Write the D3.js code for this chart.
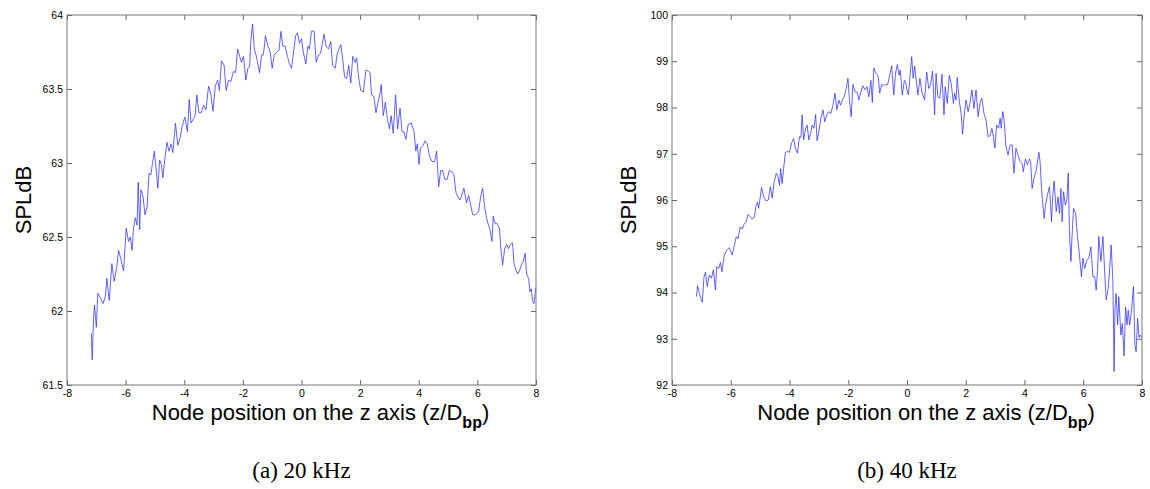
<!DOCTYPE html>
<html>
<head>
<meta charset="utf-8">
<script src="https://cdnjs.cloudflare.com/ajax/libs/d3/7.8.5/d3.min.js"></script>
<style>
body { margin: 0; background: #fff; }
svg { display: block; }
.tick text { font-family: "Liberation Sans", Arial, sans-serif; font-size: 10.5px; fill: #000; }
.tick line { stroke: #666; }
.frame { fill: none; stroke: #777; stroke-width: 1; }
.series { fill: none; stroke: #3a3aff; stroke-width: 0.8; stroke-linejoin: round; }
.axis-label { font-family: "Liberation Sans", Arial, sans-serif; font-size: 22px; fill: #000; }
.caption { font-family: "Liberation Serif", "DejaVu Serif", serif; font-size: 23px; fill: #000; }
</style>
</head>
<body>
<svg id="fig"></svg>
<script>
'use strict';

// (a) 20 kHz
var zA = [-7.17, -7.14, -7.09, -7.06, -7.00, -6.95, -6.86, -6.77, -6.69, -6.64, -6.56, -6.47, -6.39, -6.30, -6.24, -6.15,
  -6.07, -5.98, -5.90, -5.84, -5.78, -5.73, -5.67, -5.61, -5.57, -5.52, -5.48, -5.41, -5.34, -5.27, -5.20, -5.14,
  -5.09, -5.02, -4.95, -4.90, -4.84, -4.78, -4.73, -4.66, -4.59, -4.52, -4.45, -4.39, -4.30, -4.22, -4.14, -4.07,
  -3.98, -3.89, -3.83, -3.77, -3.68, -3.63, -3.57, -3.50, -3.42, -3.34, -3.26, -3.17, -3.09, -3.02, -2.94, -2.86,
  -2.80, -2.73, -2.64, -2.57, -2.49, -2.41, -2.32, -2.25, -2.18, -2.11, -2.05, -1.98, -1.90, -1.83, -1.77, -1.73,
  -1.67, -1.61, -1.55, -1.50, -1.43, -1.36, -1.30, -1.23, -1.16, -1.07, -1.00, -0.93, -0.84, -0.77, -0.70, -0.64,
  -0.56, -0.48, -0.41, -0.34, -0.27, -0.20, -0.14, -0.07, 0.00,
  0.06, 0.15, 0.22, 0.27, 0.34, 0.43, 0.50, 0.58, 0.65, 0.77, 0.84, 0.92, 1.00, 1.06, 1.15, 1.22,
  1.34, 1.40, 1.47, 1.54, 1.61, 1.68, 1.75, 1.83, 1.88, 1.95, 2.02, 2.11, 2.20, 2.28, 2.34, 2.39,
  2.47, 2.54, 2.61, 2.68, 2.72, 2.79, 2.86, 2.93, 3.00, 3.06, 3.13, 3.21, 3.28, 3.36, 3.43, 3.50,
  3.56, 3.64, 3.75, 3.84, 3.90, 3.95, 4.01, 4.06, 4.15, 4.22, 4.29, 4.36, 4.45, 4.54, 4.61, 4.68,
  4.75, 4.81, 4.89, 4.97, 5.04, 5.13, 5.20, 5.27, 5.34, 5.40, 5.47, 5.54, 5.63, 5.70, 5.77, 5.84,
  5.93, 6.04, 6.11, 6.18, 6.25, 6.31, 6.38, 6.43, 6.50, 6.54, 6.61, 6.68, 6.75, 6.81, 6.86, 6.93,
  7.00, 7.06, 7.13, 7.20, 7.25, 7.31, 7.38, 7.45, 7.52, 7.56, 7.63, 7.68, 7.75, 7.79, 7.84, 7.88,
  7.93, 7.97, 8.00];
var splA = [61.85, 61.67, 61.97, 62.04, 61.89, 62.12, 62.09, 62.05, 62.10, 62.22, 62.07, 62.32, 62.20, 62.30, 62.41, 62.34,
  62.27, 62.56, 62.47, 62.50, 62.41, 62.56, 62.63, 62.58, 62.87, 62.55, 62.82, 62.78, 62.65, 62.70, 62.93, 62.92,
  62.99, 63.08, 62.94, 62.83, 63.02, 62.99, 62.90, 63.03, 63.14, 63.08, 63.13, 63.07, 63.27, 63.12, 63.17, 63.25,
  63.31, 63.21, 63.43, 63.27, 63.30, 63.32, 63.46, 63.34, 63.34, 63.39, 63.36, 63.52, 63.46, 63.35, 63.52, 63.56,
  63.49, 63.69, 63.66, 63.49, 63.56, 63.55, 63.62, 63.61, 63.77, 63.72, 63.68, 63.72, 63.56, 63.64, 63.65, 63.82,
  63.94, 63.77, 63.73, 63.68, 63.61, 63.73, 63.73, 63.86, 63.80, 63.75, 63.64, 63.73, 63.75, 63.76, 63.89, 63.79,
  63.79, 63.72, 63.67, 63.64, 63.75, 63.86, 63.88, 63.81, 63.84,
  63.75, 63.67, 63.79, 63.77, 63.89, 63.89, 63.68, 63.73, 63.74, 63.87, 63.79, 63.77, 63.82, 63.66, 63.64, 63.74,
  63.80, 63.71, 63.58, 63.57, 63.66, 63.54, 63.72, 63.68, 63.71, 63.58, 63.49, 63.48, 63.63, 63.62, 63.61, 63.46,
  63.45, 63.34, 63.41, 63.47, 63.53, 63.32, 63.41, 63.30, 63.23, 63.32, 63.20, 63.46, 63.23, 63.37, 63.21, 63.21,
  63.16, 63.26, 63.27, 63.21, 63.08, 63.13, 62.99, 63.10, 63.12, 63.15, 63.13, 63.05, 63.01, 63.01, 63.08, 62.84,
  62.95, 62.95, 62.89, 62.89, 62.95, 62.94, 62.92, 62.80, 62.77, 62.75, 62.78, 62.83, 62.73, 62.78, 62.72, 62.65,
  62.65, 62.67, 62.77, 62.83, 62.70, 62.63, 62.58, 62.55, 62.47, 62.64, 62.59, 62.59, 62.56, 62.40, 62.31, 62.42,
  62.45, 62.42, 62.45, 62.46, 62.32, 62.28, 62.25, 62.28, 62.32, 62.33, 62.39, 62.25, 62.22, 62.13, 62.15, 62.07,
  62.05, 62.12, 62.16];

// (b) 40 kHz
var zB = [-7.17, -7.13, -7.07, -7.02, -6.97, -6.91, -6.86, -6.80, -6.73, -6.66, -6.59, -6.52, -6.48, -6.41, -6.35, -6.30,
  -6.22, -6.13, -6.05, -5.95, -5.89, -5.81, -5.75, -5.68, -5.61, -5.55, -5.48, -5.41, -5.34, -5.27, -5.20, -5.14,
  -5.09, -5.05, -4.95, -4.88, -4.80, -4.72, -4.65, -4.59, -4.53, -4.45, -4.39, -4.34, -4.30, -4.25, -4.20, -4.14,
  -4.07, -4.00, -3.93, -3.86, -3.80, -3.73, -3.66, -3.61, -3.57, -3.52, -3.45, -3.40, -3.34, -3.28, -3.23, -3.17,
  -3.11, -3.06, -3.00, -2.93, -2.86, -2.80, -2.73, -2.66, -2.59, -2.52, -2.45, -2.39, -2.32, -2.26, -2.20, -2.14,
  -2.07, -2.01, -1.95, -1.90, -1.84, -1.77, -1.69, -1.64, -1.57, -1.50, -1.43, -1.36, -1.30, -1.23, -1.18, -1.13,
  -1.05, -0.98, -0.93, -0.86, -0.80, -0.73, -0.66, -0.59, -0.52, -0.45, -0.39, -0.33, -0.27, -0.23, -0.16, -0.09,
  -0.05, 0.00,
  0.05, 0.11, 0.16, 0.21, 0.26, 0.32, 0.37, 0.44, 0.51, 0.60, 0.67, 0.74, 0.80, 0.87, 0.94, 0.99,
  1.05, 1.12, 1.19, 1.26, 1.30, 1.37, 1.44, 1.51, 1.58, 1.62, 1.67, 1.71, 1.78, 1.85, 1.89, 1.96,
  2.01, 2.08, 2.14, 2.21, 2.28, 2.35, 2.42, 2.49, 2.55, 2.62, 2.69, 2.76, 2.83, 2.89, 2.94, 2.99,
  3.05, 3.12, 3.17, 3.21, 3.26, 3.30, 3.37, 3.44, 3.51, 3.58, 3.64, 3.71, 3.78, 3.85, 3.92, 3.96,
  4.03, 4.10, 4.17, 4.21, 4.26, 4.33, 4.39, 4.49, 4.53, 4.58, 4.62, 4.67, 4.71, 4.78, 4.85, 4.92,
  4.96, 5.01, 5.08, 5.14, 5.19, 5.24, 5.28, 5.33, 5.39, 5.44, 5.49, 5.53, 5.58, 5.62, 5.67, 5.74,
  5.80, 5.87, 5.94, 5.99, 6.05, 6.12, 6.19, 6.26, 6.33, 6.39, 6.44, 6.49, 6.53, 6.60, 6.67, 6.74,
  6.78, 6.85, 6.90, 6.95, 7.01, 7.05, 7.08, 7.12, 7.17, 7.21, 7.28, 7.33, 7.39, 7.44, 7.49, 7.53,
  7.58, 7.65, 7.71, 7.76, 7.80, 7.85, 7.90, 7.94, 7.99];
var splB = [93.91, 94.15, 93.98, 93.87, 93.79, 94.34, 94.44, 94.13, 94.38, 94.31, 94.49, 94.05, 94.56, 94.52, 94.65, 94.45,
  94.81, 94.92, 94.97, 94.81, 94.99, 95.21, 95.16, 95.42, 95.37, 95.47, 95.53, 95.69, 95.64, 95.59, 95.62, 95.86,
  95.96, 95.82, 96.27, 96.07, 95.98, 96.00, 96.29, 96.04, 96.36, 96.58, 96.50, 96.32, 96.68, 96.36, 96.68, 97.03,
  97.05, 97.03, 97.23, 97.33, 97.12, 97.01, 97.37, 97.35, 97.84, 97.30, 97.55, 97.62, 97.30, 97.44, 97.62, 97.55,
  97.85, 97.28, 97.48, 97.77, 97.95, 97.69, 97.84, 97.91, 97.87, 98.05, 98.31, 97.95, 98.16, 98.05, 98.16, 98.23,
  98.41, 98.63, 98.09, 97.80, 98.50, 98.34, 98.33, 98.16, 98.34, 98.47, 98.38, 98.45, 98.23, 98.59, 98.11, 98.85,
  98.74, 98.67, 98.31, 98.50, 98.47, 98.50, 98.49, 98.70, 98.90, 98.27, 98.74, 98.93, 98.70, 98.81, 98.27, 98.59,
  98.56, 98.38,
  98.27, 98.74, 99.10, 98.63, 98.90, 98.56, 98.27, 98.63, 98.33, 98.16, 98.77, 98.41, 98.49, 98.79, 97.84, 98.74,
  98.23, 98.20, 98.72, 97.84, 98.45, 98.09, 98.70, 98.49, 98.09, 98.31, 98.16, 98.65, 98.14, 97.84, 97.42, 97.91,
  98.16, 97.91, 98.09, 98.38, 97.98, 98.38, 97.80, 98.11, 98.20, 97.87, 97.73, 97.37, 97.39, 97.55, 97.37, 97.12,
  97.62, 97.55, 97.77, 97.55, 97.91, 97.77, 97.15, 96.97, 97.19, 97.19, 96.58, 97.12, 96.97, 96.83, 96.79, 96.61,
  96.89, 96.76, 96.89, 96.83, 96.25, 96.50, 96.61, 97.03, 96.83, 96.25, 95.93, 95.60, 95.86, 96.11, 96.29, 95.53,
  96.07, 96.41, 95.75, 96.07, 95.71, 96.25, 95.53, 96.18, 95.89, 96.00, 96.58, 95.32, 94.67, 95.24, 95.82, 95.71,
  95.24, 94.81, 94.34, 94.74, 94.52, 94.70, 94.74, 94.99, 94.34, 94.34, 94.05, 94.52, 95.21, 94.67, 95.21, 94.31,
  93.84, 94.09, 94.52, 95.03, 94.23, 92.29, 93.66, 93.98, 93.30, 93.91, 93.08, 93.33, 92.63, 93.69, 93.30, 93.62,
  93.30, 93.66, 94.13, 92.86, 92.72, 93.44, 93.03, 93.08, 93.02];

var xTicks = [-8, -6, -4, -2, 0, 2, 4, 6, 8];
var yTicksA = [61.5, 62, 62.5, 63, 63.5, 64];
var yTicksB = [92, 93, 94, 95, 96, 97, 98, 99, 100];
var captions = ['(a) 20 kHz', '(b) 40 kHz'];

var width = 1150, height = 489;
var svg = d3.select('#fig').attr('width', width).attr('height', height);

// plain hyphen for negatives, like the original figure
var plain = function (d) { return String(d); };

var panels = [
  { z: zA, spl: splA, yTicks: yTicksA, yDomain: [61.5, 64], left: 67, right: 536, yLabelX: 23, caption: captions[0] },
  { z: zB, spl: splB, yTicks: yTicksB, yDomain: [92, 100], left: 672, right: 1142, yLabelX: 628, caption: captions[1] }
];
var plotTop = 15, plotBottom = 385;

panels.forEach(function (p) {
  var x = d3.scaleLinear().domain([-8, 8]).range([p.left, p.right]);
  var y = d3.scaleLinear().domain(p.yDomain).range([plotBottom, plotTop]);
  var g = svg.append('g');

  g.append('g').attr('transform', 'translate(0,' + plotBottom + ')')
    .call(d3.axisBottom(x).tickValues(xTicks).tickSize(-5).tickSizeOuter(0).tickPadding(5).tickFormat(plain));
  g.append('g').attr('transform', 'translate(0,' + plotTop + ')')
    .call(d3.axisTop(x).tickValues(xTicks).tickSize(-5).tickSizeOuter(0).tickFormat(''));
  g.append('g').attr('transform', 'translate(' + p.left + ',0)')
    .call(d3.axisLeft(y).tickValues(p.yTicks).tickSize(-5).tickSizeOuter(0).tickPadding(4).tickFormat(plain));
  g.append('g').attr('transform', 'translate(' + p.right + ',0)')
    .call(d3.axisRight(y).tickValues(p.yTicks).tickSize(-5).tickSizeOuter(0).tickFormat(''));
  g.selectAll('.domain').remove();

  var line = d3.line().x(function (d) { return x(d[0]); }).y(function (d) { return y(d[1]); });
  g.append('path').attr('class', 'series').attr('d', line(d3.zip(p.z, p.spl)));

  g.append('rect').attr('class', 'frame')
    .attr('x', p.left).attr('y', plotTop).attr('width', p.right - p.left).attr('height', plotBottom - plotTop);

  g.append('text').attr('class', 'axis-label').attr('text-anchor', 'middle')
    .attr('transform', 'translate(' + p.yLabelX + ',' + (plotTop + plotBottom) / 2 + ') rotate(-90)')
    .attr('dy', '0.35em').text('SPLdB');

  var xl = g.append('text').attr('class', 'axis-label').attr('text-anchor', 'middle')
    .attr('x', (p.left + p.right) / 2 + 19).attr('y', 420);
  xl.append('tspan').text('Node position on the z axis (z/D');
  xl.append('tspan').attr('dy', 8).style('font-size', '16px').style('font-weight', 'bold').text('bp');
  xl.append('tspan').attr('dy', -8).text(')');

  g.append('text').attr('class', 'caption').attr('text-anchor', 'middle')
    .attr('x', (p.left + p.right) / 2).attr('y', 478).text(p.caption);
});
</script>
</body>
</html>
